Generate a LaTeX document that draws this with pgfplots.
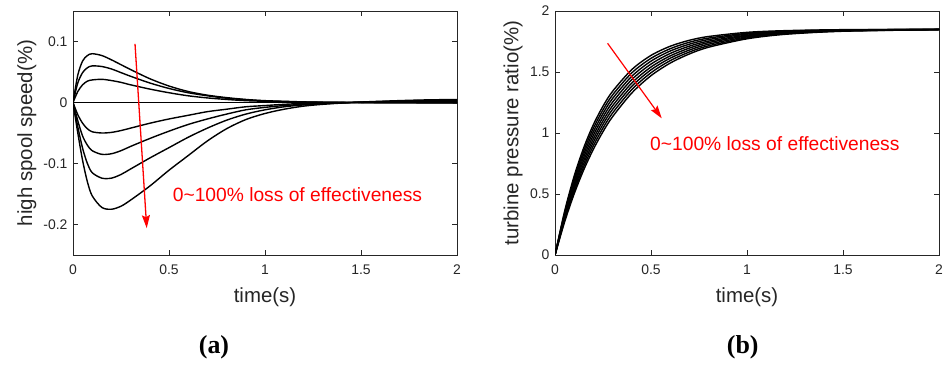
\documentclass[border=0pt]{standalone}
\usepackage{fontspec}
\setmainfont{Liberation Sans}
\newfontfamily\capfont{Liberation Serif}
\usepackage{pgfplots}
\usepackage{pgfplotstable}
\pgfplotsset{compat=1.18}
\usetikzlibrary{arrows.meta}
\definecolor{axgray}{RGB}{38,38,38}

\pgfplotstableread{
t     p3      p2      p1      z   n1      n2      n3      n4
0     0       0       0       0   0       0       0       0
0.025 0.045   0.032   0.018   0   -0.020  -0.030  -0.040  -0.050
0.05  0.068   0.049   0.029   0   -0.034  -0.055  -0.075  -0.095
0.075 0.077   0.057   0.035   0   -0.043  -0.070  -0.100  -0.130
0.1   0.080   0.060   0.037   0   -0.048  -0.079  -0.115  -0.153
0.15  0.077   0.059   0.038   0   -0.050  -0.085  -0.124  -0.172
0.2   0.070   0.055   0.036   0   -0.049  -0.084  -0.124  -0.175
0.25  0.062   0.049   0.033   0   -0.046  -0.079  -0.118  -0.170
0.3   0.054   0.043   0.029   0   -0.042  -0.072  -0.109  -0.160
0.4   0.039   0.032   0.022   0   -0.034  -0.059  -0.091  -0.137
0.5   0.027   0.023   0.016   0   -0.027  -0.047  -0.074  -0.111
0.6   0.018   0.016   0.011   0   -0.021  -0.036  -0.057  -0.087
0.7   0.012   0.011   0.0075  0   -0.015  -0.027  -0.042  -0.063
0.8   0.008   0.007   0.005   0   -0.011  -0.019  -0.029  -0.043
0.9   0.005   0.0045  0.003   0   -0.007  -0.012  -0.019  -0.028
1.0   0.003   0.0025  0.002   0   -0.005  -0.008  -0.012  -0.018
1.1   0.002   0.0015  0.001   0   -0.003  -0.005  -0.007  -0.011
1.2   0.001   0.0008  0.0005  0   -0.0015 -0.003  -0.004  -0.006
1.3   0.0005  0.0004  0.0002  0   -0.0007 -0.001  -0.002  -0.003
1.45  0       0       0       0   0       0       0       0
1.6   -0.0003 -0.0002 -0.0001 0   0.0007  0.001   0.0015  0.002
1.8   -0.0005 -0.0004 -0.0002 0   0.0012  0.002   0.003   0.004
2.0   -0.0006 -0.0005 -0.0003 0   0.0015  0.003   0.004   0.005
}\leftdata

\pgfplotstableread{
t    c0    c1    c2    c3    c4    c5    c6    c7
0    0     0     0     0     0     0     0     0
0.05 0.358 0.346 0.333 0.321 0.308 0.296 0.284 0.271
0.1  0.648 0.627 0.606 0.585 0.564 0.544 0.523 0.502
0.15 0.881 0.855 0.829 0.803 0.777 0.751 0.725 0.699
0.2  1.069 1.040 1.011 0.982 0.953 0.925 0.896 0.867
0.25 1.220 1.190 1.160 1.130 1.100 1.071 1.041 1.011
0.3  1.342 1.312 1.283 1.253 1.223 1.194 1.164 1.134
0.4  1.520 1.493 1.465 1.438 1.410 1.383 1.356 1.328
0.5  1.636 1.612 1.589 1.565 1.541 1.518 1.494 1.470
0.6  1.711 1.691 1.672 1.652 1.632 1.613 1.593 1.573
0.7  1.760 1.744 1.728 1.712 1.696 1.680 1.664 1.648
0.8  1.791 1.778 1.766 1.753 1.741 1.728 1.715 1.703
1.0  1.825 1.817 1.810 1.802 1.795 1.787 1.779 1.772
1.2  1.839 1.835 1.830 1.826 1.822 1.818 1.813 1.809
1.5  1.847 1.845 1.843 1.841 1.839 1.838 1.836 1.834
2.0  1.850 1.850 1.849 1.849 1.848 1.848 1.847 1.847
}\rightdata

\pgfplotsset{
  matl/.style={
    scale only axis, width=384bp, height=244bp,
    anchor=south west,
    xmin=0, xmax=2,
    xtick={0,0.5,1,1.5,2}, xticklabels={0,0.5,1,1.5,2},
    axis line style={axgray, line width=0.9bp},
    every tick/.style={axgray, line width=0.8bp},
    tick align=inside, major tick length=5bp,
    xtick pos=both, ytick pos=both,
    tick label style={font=\fontsize{14}{16}\selectfont, text=axgray},
    xticklabel style={yshift=-6bp},
    yticklabel style={xshift=-2bp},
    label style={font=\fontsize{20.5}{23}\selectfont, text=axgray},
    xlabel style={at={(axis description cs:0.5,-0.172)}, anchor=center},
    clip=true,
  },
  curve/.style={black, line width=1.4bp, smooth, tension=0.5, no marks},
}

\begin{document}
\begin{tikzpicture}
\useasboundingbox (0,0) rectangle (949bp,365bp);

\begin{axis}[matl, at={(73bp,110bp)},
  ymin=-0.25, ymax=0.15,
  ytick={-0.2,-0.1,0,0.1}, yticklabels={-0.2,-0.1,0,0.1},
  xlabel={time(s)}, ylabel={high spool speed(\%)},
  ylabel style={at={(axis description cs:-0.12,0.5)}, anchor=center, rotate=0},
]
\addplot[curve] table[x=t,y=p3] {\leftdata};
\addplot[curve] table[x=t,y=p2] {\leftdata};
\addplot[curve] table[x=t,y=p1] {\leftdata};
\addplot[curve] table[x=t,y=z] {\leftdata};
\addplot[curve] table[x=t,y=n1] {\leftdata};
\addplot[curve] table[x=t,y=n2] {\leftdata};
\addplot[curve] table[x=t,y=n3] {\leftdata};
\addplot[curve] table[x=t,y=n4] {\leftdata};
\draw[red, line width=1.3bp, -{Stealth[length=13bp,width=8bp,inset=2bp]}] (axis cs:0.323,0.096) -- (axis cs:0.384,-0.206);
\node[red, anchor=west, font=\fontsize{19.3}{22}\selectfont, inner sep=0pt] at (axis cs:0.519,-0.151) {0\textasciitilde 100\% loss of effectiveness};
\end{axis}

\begin{axis}[matl, at={(555bp,110bp)},
  ymin=0, ymax=2,
  ytick={0,0.5,1,1.5,2}, yticklabels={0,0.5,1,1.5,2},
  xlabel={time(s)}, ylabel={turbine pressure ratio(\%)},
  ylabel style={at={(axis description cs:-0.109,0.5)}, anchor=center, rotate=0},
]
\addplot[curve] table[x=t,y=c0] {\rightdata};
\addplot[curve] table[x=t,y=c1] {\rightdata};
\addplot[curve] table[x=t,y=c2] {\rightdata};
\addplot[curve] table[x=t,y=c3] {\rightdata};
\addplot[curve] table[x=t,y=c4] {\rightdata};
\addplot[curve] table[x=t,y=c5] {\rightdata};
\addplot[curve] table[x=t,y=c6] {\rightdata};
\addplot[curve] table[x=t,y=c7] {\rightdata};
\draw[red, line width=1.2bp, -{Stealth[length=13bp,width=8bp,inset=2bp]}] (axis cs:0.274,1.735) -- (axis cs:0.556,1.12);
\node[red, anchor=west, font=\fontsize{19.3}{22}\selectfont, inner sep=0pt] at (axis cs:0.495,0.91) {0\textasciitilde 100\% loss of effectiveness};
\end{axis}

\node[font=\capfont\bfseries\fontsize{26}{30}\selectfont] at (214bp,18bp) {(a)};
\node[font=\capfont\bfseries\fontsize{26}{30}\selectfont] at (742.7bp,18bp) {(b)};
\end{tikzpicture}
\end{document}
